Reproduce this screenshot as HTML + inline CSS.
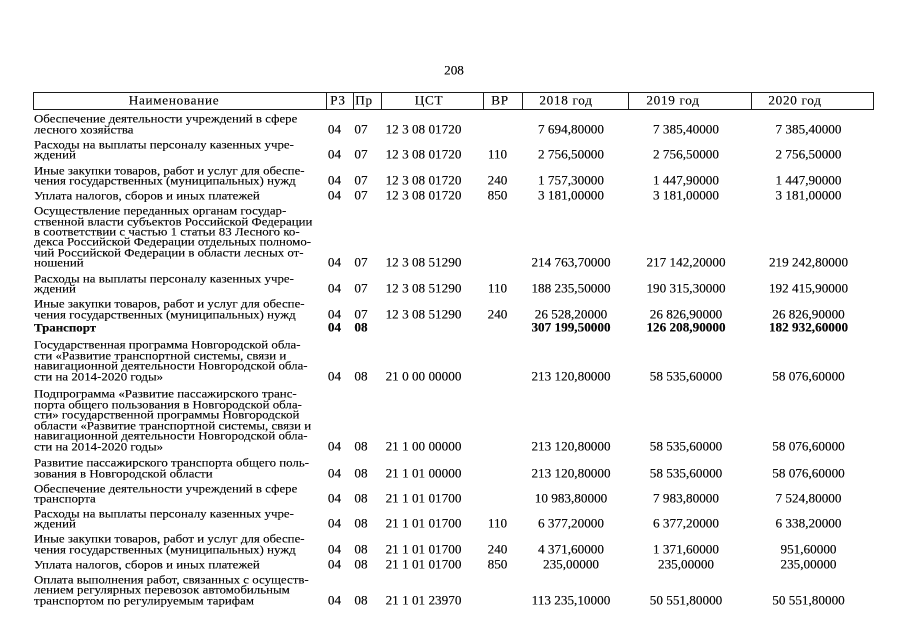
<!DOCTYPE html>
<html><head><meta charset="utf-8">
<style>
html,body{margin:0;padding:0;background:#fff;}
body{width:905px;height:640px;position:relative;overflow:hidden;font-family:"Liberation Serif","DejaVu Serif",serif;color:#0a0a0a;}
.t{position:absolute;white-space:nowrap;font-size:13.2px;line-height:14px;height:14px;margin-top:-7px;transform:scaleY(.92);text-shadow:0 0 0.3px #000;}
.n{font-size:12.9px;}
.c{width:200px;margin-left:-100px;text-align:center;}
.b{font-weight:bold;}
.h{letter-spacing:0.7px;}
.hl{position:absolute;background:#1a1a1a;}
</style></head><body>

<div class="t c" style="left:454px;top:71px">208</div>

<!-- header box -->
<div class="hl" style="left:33px;top:92px;width:841px;height:1px"></div>
<div class="hl" style="left:33px;top:109px;width:841px;height:1px"></div>
<div class="hl" style="left:33px;top:92px;width:1px;height:18px"></div>
<div class="hl" style="left:873px;top:92px;width:1px;height:18px"></div>
<div class="hl" style="left:326px;top:92px;width:1px;height:18px"></div>
<div class="hl" style="left:353px;top:92px;width:1px;height:18px"></div>
<div class="hl" style="left:381px;top:92px;width:1px;height:18px"></div>
<div class="hl" style="left:483px;top:92px;width:1px;height:18px"></div>
<div class="hl" style="left:522px;top:92px;width:1px;height:18px"></div>
<div class="hl" style="left:628px;top:92px;width:1px;height:18px"></div>
<div class="hl" style="left:751px;top:92px;width:1px;height:18px"></div>

<div class="t c h" style="left:174px;top:101px">Наименование</div>
<div class="t c h" style="left:338px;top:101px">РЗ</div>
<div class="t c h" style="left:364px;top:101px">Пр</div>
<div class="t c h" style="left:429px;top:101px">ЦСТ</div>
<div class="t c h" style="left:500px;top:101px">ВР</div>
<div class="t c h" style="left:566px;top:101px">2018 год</div>
<div class="t c h" style="left:673px;top:101px">2019 год</div>
<div class="t c h" style="left:795px;top:101px">2020 год</div>

<!-- r1 -->
<div class="t n" style="left:34px;top:119px">Обеспечение деятельности учреждений в сфере</div>
<div class="t n" style="left:34px;top:129.5px">лесного хозяйства</div>
<div class="t c" style="left:334.5px;top:129.5px">04</div>
<div class="t c" style="left:361px;top:129.5px">07</div>
<div class="t c" style="left:423.5px;top:129.5px">12 3 08 01720</div>
<div class="t c" style="left:571px;top:129.5px">7 694,80000</div>
<div class="t c" style="left:686px;top:129.5px">7 385,40000</div>
<div class="t c" style="left:808.5px;top:129.5px">7 385,40000</div>

<!-- r2 -->
<div class="t n" style="left:34px;top:145px">Расходы на выплаты персоналу казенных учре-</div>
<div class="t n" style="left:34px;top:155px">ждений</div>
<div class="t c" style="left:334.5px;top:155px">04</div>
<div class="t c" style="left:361px;top:155px">07</div>
<div class="t c" style="left:423.5px;top:155px">12 3 08 01720</div>
<div class="t c" style="left:497.5px;top:155px">110</div>
<div class="t c" style="left:571px;top:155px">2 756,50000</div>
<div class="t c" style="left:686px;top:155px">2 756,50000</div>
<div class="t c" style="left:808.5px;top:155px">2 756,50000</div>

<!-- r3 -->
<div class="t n" style="left:34px;top:170.5px">Иные закупки товаров, работ и услуг для обеспе-</div>
<div class="t n" style="left:34px;top:180.5px">чения государственных (муниципальных) нужд</div>
<div class="t c" style="left:334.5px;top:180.5px">04</div>
<div class="t c" style="left:361px;top:180.5px">07</div>
<div class="t c" style="left:423.5px;top:180.5px">12 3 08 01720</div>
<div class="t c" style="left:497.5px;top:180.5px">240</div>
<div class="t c" style="left:571px;top:180.5px">1 757,30000</div>
<div class="t c" style="left:686px;top:180.5px">1 447,90000</div>
<div class="t c" style="left:808.5px;top:180.5px">1 447,90000</div>

<!-- r4 -->
<div class="t n" style="left:34px;top:195.5px">Уплата налогов, сборов и иных платежей</div>
<div class="t c" style="left:334.5px;top:195.5px">04</div>
<div class="t c" style="left:361px;top:195.5px">07</div>
<div class="t c" style="left:423.5px;top:195.5px">12 3 08 01720</div>
<div class="t c" style="left:497.5px;top:195.5px">850</div>
<div class="t c" style="left:571px;top:195.5px">3 181,00000</div>
<div class="t c" style="left:686px;top:195.5px">3 181,00000</div>
<div class="t c" style="left:808.5px;top:195.5px">3 181,00000</div>

<!-- r5 -->
<div class="t n" style="left:34px;top:211px">Осуществление переданных органам государ-</div>
<div class="t n" style="left:34px;top:221.5px">ственной власти субъектов Российской Федерации</div>
<div class="t n" style="left:34px;top:232px">в соответствии с частью 1 статьи 83 Лесного ко-</div>
<div class="t n" style="left:34px;top:242px">декса Российской Федерации отдельных полномо-</div>
<div class="t n" style="left:34px;top:252.5px">чий Российской Федерации в области лесных от-</div>
<div class="t n" style="left:34px;top:263px">ношений</div>
<div class="t c" style="left:334.5px;top:263px">04</div>
<div class="t c" style="left:361px;top:263px">07</div>
<div class="t c" style="left:423.5px;top:263px">12 3 08 51290</div>
<div class="t c" style="left:571px;top:263px">214 763,70000</div>
<div class="t c" style="left:686px;top:263px">217 142,20000</div>
<div class="t c" style="left:808.5px;top:263px">219 242,80000</div>

<!-- r6 -->
<div class="t n" style="left:34px;top:278.5px">Расходы на выплаты персоналу казенных учре-</div>
<div class="t n" style="left:34px;top:289px">ждений</div>
<div class="t c" style="left:334.5px;top:289px">04</div>
<div class="t c" style="left:361px;top:289px">07</div>
<div class="t c" style="left:423.5px;top:289px">12 3 08 51290</div>
<div class="t c" style="left:497.5px;top:289px">110</div>
<div class="t c" style="left:571px;top:289px">188 235,50000</div>
<div class="t c" style="left:686px;top:289px">190 315,30000</div>
<div class="t c" style="left:808.5px;top:289px">192 415,90000</div>

<!-- r7 -->
<div class="t n" style="left:34px;top:304px">Иные закупки товаров, работ и услуг для обеспе-</div>
<div class="t n" style="left:34px;top:314.5px">чения государственных (муниципальных) нужд</div>
<div class="t c" style="left:334.5px;top:314.5px">04</div>
<div class="t c" style="left:361px;top:314.5px">07</div>
<div class="t c" style="left:423.5px;top:314.5px">12 3 08 51290</div>
<div class="t c" style="left:497.5px;top:314.5px">240</div>
<div class="t c" style="left:571px;top:314.5px">26 528,20000</div>
<div class="t c" style="left:686px;top:314.5px">26 826,90000</div>
<div class="t c" style="left:808.5px;top:314.5px">26 826,90000</div>

<!-- r8 -->
<div class="t n b" style="left:34px;top:328px">Транспорт</div>
<div class="t c b" style="left:334.5px;top:328px">04</div>
<div class="t c b" style="left:361px;top:328px">08</div>
<div class="t c b" style="left:571px;top:328px">307 199,50000</div>
<div class="t c b" style="left:686px;top:328px">126 208,90000</div>
<div class="t c b" style="left:808.5px;top:328px">182 932,60000</div>

<!-- r9 -->
<div class="t n" style="left:34px;top:345px">Государственная программа Новгородской обла-</div>
<div class="t n" style="left:34px;top:355.5px">сти «Развитие транспортной системы, связи и</div>
<div class="t n" style="left:34px;top:366px">навигационной деятельности Новгородской обла-</div>
<div class="t n" style="left:34px;top:377px">сти на 2014-2020 годы»</div>
<div class="t c" style="left:334.5px;top:377px">04</div>
<div class="t c" style="left:361px;top:377px">08</div>
<div class="t c" style="left:423.5px;top:377px">21 0 00 00000</div>
<div class="t c" style="left:571px;top:377px">213 120,80000</div>
<div class="t c" style="left:686px;top:377px">58 535,60000</div>
<div class="t c" style="left:808.5px;top:377px">58 076,60000</div>

<!-- r10 -->
<div class="t n" style="left:34px;top:394px">Подпрограмма «Развитие пассажирского транс-</div>
<div class="t n" style="left:34px;top:404.5px">порта общего пользования в Новгородской обла-</div>
<div class="t n" style="left:34px;top:415px">сти» государственной программы Новгородской</div>
<div class="t n" style="left:34px;top:425.5px">области «Развитие транспортной системы, связи и</div>
<div class="t n" style="left:34px;top:436px">навигационной деятельности Новгородской обла-</div>
<div class="t n" style="left:34px;top:446.5px">сти на 2014-2020 годы»</div>
<div class="t c" style="left:334.5px;top:446.5px">04</div>
<div class="t c" style="left:361px;top:446.5px">08</div>
<div class="t c" style="left:423.5px;top:446.5px">21 1 00 00000</div>
<div class="t c" style="left:571px;top:446.5px">213 120,80000</div>
<div class="t c" style="left:686px;top:446.5px">58 535,60000</div>
<div class="t c" style="left:808.5px;top:446.5px">58 076,60000</div>

<!-- r11 -->
<div class="t n" style="left:34px;top:463px">Развитие пассажирского транспорта общего поль-</div>
<div class="t n" style="left:34px;top:473.5px">зования в Новгородской области</div>
<div class="t c" style="left:334.5px;top:473.5px">04</div>
<div class="t c" style="left:361px;top:473.5px">08</div>
<div class="t c" style="left:423.5px;top:473.5px">21 1 01 00000</div>
<div class="t c" style="left:571px;top:473.5px">213 120,80000</div>
<div class="t c" style="left:686px;top:473.5px">58 535,60000</div>
<div class="t c" style="left:808.5px;top:473.5px">58 076,60000</div>

<!-- r12 -->
<div class="t n" style="left:34px;top:488.5px">Обеспечение деятельности учреждений в сфере</div>
<div class="t n" style="left:34px;top:499px">транспорта</div>
<div class="t c" style="left:334.5px;top:499px">04</div>
<div class="t c" style="left:361px;top:499px">08</div>
<div class="t c" style="left:423.5px;top:499px">21 1 01 01700</div>
<div class="t c" style="left:571px;top:499px">10 983,80000</div>
<div class="t c" style="left:686px;top:499px">7 983,80000</div>
<div class="t c" style="left:808.5px;top:499px">7 524,80000</div>

<!-- r13 -->
<div class="t n" style="left:34px;top:514px">Расходы на выплаты персоналу казенных учре-</div>
<div class="t n" style="left:34px;top:524px">ждений</div>
<div class="t c" style="left:334.5px;top:524px">04</div>
<div class="t c" style="left:361px;top:524px">08</div>
<div class="t c" style="left:423.5px;top:524px">21 1 01 01700</div>
<div class="t c" style="left:497.5px;top:524px">110</div>
<div class="t c" style="left:571px;top:524px">6 377,20000</div>
<div class="t c" style="left:686px;top:524px">6 377,20000</div>
<div class="t c" style="left:808.5px;top:524px">6 338,20000</div>

<!-- r14 -->
<div class="t n" style="left:34px;top:539px">Иные закупки товаров, работ и услуг для обеспе-</div>
<div class="t n" style="left:34px;top:549.5px">чения государственных (муниципальных) нужд</div>
<div class="t c" style="left:334.5px;top:549.5px">04</div>
<div class="t c" style="left:361px;top:549.5px">08</div>
<div class="t c" style="left:423.5px;top:549.5px">21 1 01 01700</div>
<div class="t c" style="left:497.5px;top:549.5px">240</div>
<div class="t c" style="left:571px;top:549.5px">4 371,60000</div>
<div class="t c" style="left:686px;top:549.5px">1 371,60000</div>
<div class="t c" style="left:808.5px;top:549.5px">951,60000</div>

<!-- r15 -->
<div class="t n" style="left:34px;top:564.5px">Уплата налогов, сборов и иных платежей</div>
<div class="t c" style="left:334.5px;top:564.5px">04</div>
<div class="t c" style="left:361px;top:564.5px">08</div>
<div class="t c" style="left:423.5px;top:564.5px">21 1 01 01700</div>
<div class="t c" style="left:497.5px;top:564.5px">850</div>
<div class="t c" style="left:571px;top:564.5px">235,00000</div>
<div class="t c" style="left:686px;top:564.5px">235,00000</div>
<div class="t c" style="left:808.5px;top:564.5px">235,00000</div>

<!-- r16 -->
<div class="t n" style="left:34px;top:579.5px">Оплата выполнения работ, связанных с осуществ-</div>
<div class="t n" style="left:34px;top:590px">лением регулярных перевозок автомобильным</div>
<div class="t n" style="left:34px;top:600.5px">транспортом по регулируемым тарифам</div>
<div class="t c" style="left:334.5px;top:600.5px">04</div>
<div class="t c" style="left:361px;top:600.5px">08</div>
<div class="t c" style="left:423.5px;top:600.5px">21 1 01 23970</div>
<div class="t c" style="left:571px;top:600.5px">113 235,10000</div>
<div class="t c" style="left:686px;top:600.5px">50 551,80000</div>
<div class="t c" style="left:808.5px;top:600.5px">50 551,80000</div>

</body></html>
